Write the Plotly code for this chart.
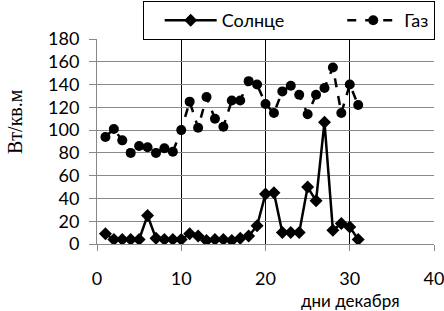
import plotly.graph_objects as go

days = list(range(1, 32))
sun = [9, 4, 4, 4, 4, 25, 5, 4, 4, 4, 9, 7, 3, 4, 4, 3, 5, 7, 16, 44, 45,
       10, 10, 10, 50, 38, 107, 12, 18, 15, 4]
gas = [94, 101, 91, 80, 86, 85, 80, 84, 81, 100, 125, 102, 129, 110, 103, 126, 126, 143, 140, 123, 115,
       134, 139, 131, 114, 131, 137, 155, 115, 140, 122]
y_ticks = [0, 20, 40, 60, 80, 100, 120, 140, 160, 180]
x_ticks = [0, 10, 20, 30, 40]
NB = "\u00a0"

W, H = 444, 311
L, R, T, B = 97, 10, 39, 67

fig = go.Figure()
fig.add_trace(go.Scatter(x=days, y=sun, name="Солнце" + NB * 8, mode="lines+markers",
                         line=dict(color="black", width=2.5),
                         marker=dict(symbol="diamond", size=10, color="black")))
fig.add_trace(go.Scatter(x=days, y=gas, name="Газ", mode="lines+markers",
                         line=dict(color="black", width=2.5, dash="dash"),
                         marker=dict(symbol="circle", size=10, color="black")))

fig.update_layout(
    width=W, height=H,
    margin=dict(l=L, r=R, t=T, b=B, autoexpand=False),
    plot_bgcolor="white", paper_bgcolor="white",
    font=dict(family="Lato, Open Sans, sans-serif", size=17, color="black"),
    showlegend=True,
    legend=dict(orientation="h", x=1.002, xanchor="right", y=1 + (T - 1) / (H - T - B), yanchor="top",
                bordercolor="black", borderwidth=1, bgcolor="white",
                font=dict(size=18), itemwidth=52, indentation=16,
                tracegroupgap=0),
    xaxis=dict(range=[0, 40], tickvals=x_ticks, showgrid=True, gridcolor="black", gridwidth=1,
               showline=True, linecolor="#888888", linewidth=1,
               ticks="outside", ticklen=6, tickcolor="#888888",
               zeroline=False, ticklabelstandoff=12, ticklabeloverflow="allow",
               tickfont=dict(size=18)),
    yaxis=dict(range=[0, 180], tickvals=y_ticks, showgrid=True, gridcolor="#888888", gridwidth=1,
               showline=True, linecolor="#888888", linewidth=1,
               ticks="outside", ticklen=7, tickcolor="#888888",
               zeroline=False, ticklabelstandoff=6,
               tickfont=dict(size=18)),
    annotations=[
        dict(text="Вт/кв.м", xref="paper", yref="paper",
             x=(15 - L) / (W - L - R), y=(H - B - 122) / (H - T - B),
             xanchor="center", yanchor="middle", textangle=-90, showarrow=False,
             font=dict(family="Liberation Serif, Times New Roman, serif", size=20, color="black")),
        dict(text="дни декабря", xref="paper", yref="paper",
             x=(350 - L) / (W - L - R), y=-(300 - (H - B)) / (H - T - B),
             xanchor="center", yanchor="middle", showarrow=False,
             font=dict(size=17, color="black")),
    ],
)

fig.write_html("out.html", config={"displayModeBar": False},
               post_script="document.body.style.margin='0';document.body.style.overflow='hidden';")
